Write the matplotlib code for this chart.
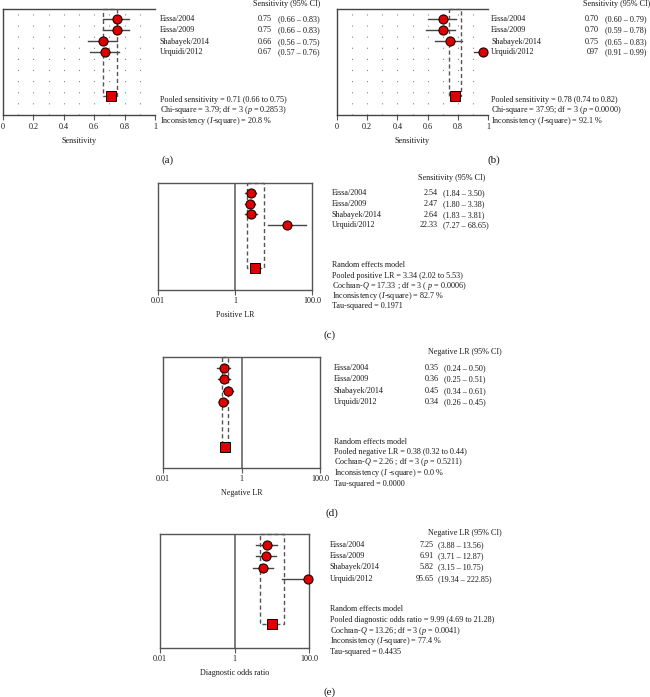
import matplotlib
matplotlib.use("Agg")
import matplotlib.pyplot as plt
from matplotlib.patches import Rectangle

plt.rcParams["font.family"] = ["Liberation Serif", "DejaVu Serif"]
plt.rcParams["mathtext.fontset"] = "custom"
plt.rcParams["mathtext.it"] = "Liberation Serif:italic"
plt.rcParams["mathtext.rm"] = "Liberation Serif"

studies = ["Eissa/2004", "Eissa/2009", "Shabayek/2014", "Urquidi/2012"]

# (a) sensitivity
sens_a = [0.75, 0.75, 0.66, 0.67]
sens_a_lo = [0.66, 0.66, 0.56, 0.57]
sens_a_hi = [0.83, 0.83, 0.75, 0.76]
sens_a_txt = ["0.75", "0.75", "0.66", "0.67"]
pool_a = (0.71, 0.66, 0.75)

# (b) sensitivity
sens_b = [0.70, 0.70, 0.75, 0.97]
sens_b_lo = [0.60, 0.59, 0.65, 0.91]
sens_b_hi = [0.79, 0.78, 0.83, 0.99]
sens_b_txt = ["0.70", "0.70", "0.75", "097"]
pool_b = (0.78, 0.74, 0.82)

# (c) positive LR
plr = [2.54, 2.47, 2.64, 22.33]
plr_lo = [1.84, 1.80, 1.83, 7.27]
plr_hi = [3.50, 3.38, 3.81, 68.65]
pool_c = (3.34, 2.02, 5.53)

# (d) negative LR
nlr = [0.35, 0.36, 0.45, 0.34]
nlr_lo = [0.24, 0.25, 0.34, 0.26]
nlr_hi = [0.50, 0.51, 0.61, 0.45]
pool_d = (0.38, 0.32, 0.44)

# (e) diagnostic odds ratio
dor = [7.25, 6.91, 5.82, 95.65]
dor_lo = [3.88, 3.71, 3.15, 19.34]
dor_hi = [13.56, 12.87, 10.75, 222.85]
pool_e = (9.99, 4.69, 21.28)

W, H = 650, 697
fig = plt.figure(figsize=(W / 100, H / 100), dpi=100)
TC = "#1a1a1a"
RED = "#dd0000"
FS = 5.9


def box(l, t, r, b):
    return [l / W, 1 - b / H, (r - l) / W, (b - t) / H]


def txt(x, y, s, size=FS, **kw):
    fig.text(x / W, 1 - y / H, s, va="center", fontsize=size, color=TC, **kw)


def forest(ax, est, lo, hi, pool, ylim, prow=7):
    rows = list(range(len(est)))
    for i in rows:
        ax.plot([lo[i], hi[i]], [i, i], color="#444", lw=1.0, zorder=2)
    ax.plot(est, rows, "o", ms=6.6, mfc=RED, mec="black", mew=0.7, zorder=4, clip_on=False)
    p, plo, phi = pool
    ax.add_patch(Rectangle((plo, ylim[1]), phi - plo, prow - ylim[1], fill=False,
                           ec="#555", lw=1.0, ls=(0, (3, 2)), zorder=3, clip_on=False))
    ax.plot([p], [prow], "s", ms=7.2, mfc=RED, mec="black", mew=0.7, zorder=5)
    ax.set_ylim(*ylim)
    ax.set_yticks([])
    ax.tick_params(axis="x", direction="out", length=3.5, width=0.8, colors="#555",
                   labelbottom=False)


# ---- (a) and (b): sensitivity panels ----
for (l, r), est, lo, hi, pool in [((3, 155), sens_a, sens_a_lo, sens_a_hi, pool_a),
                                  ((337, 488), sens_b, sens_b_lo, sens_b_hi, pool_b)]:
    ax = fig.add_axes(box(l, 9, r, 115))
    for gx in [i / 10 for i in range(1, 11)]:
        ax.axvline(gx, color="#888", lw=0.8, ls=(0, (1, 9)), zorder=1)
    forest(ax, est, lo, hi, pool, (8.7, -0.9))
    ax.set_xlim(0, 1)
    ax.set_xticks([0, 0.2, 0.4, 0.6, 0.8, 1.0])
    ax.spines["right"].set_visible(False)
    for s in ["left", "top", "bottom"]:
        ax.spines[s].set_color("#444")
        ax.spines[s].set_linewidth(1.0)
    for v, lab in zip([0, 0.2, 0.4, 0.6, 0.8, 1.0], ["0", "0.2", "0.4", "0.6", "0.8", "1"]):
        txt(l + v * (r - l), 127, lab, ha="center")
    txt((l + r) / 2, 141, "Sensitivity", ha="center")

# text columns (a)
txt(320, 4, "Sensitivity (95% CI)", ha="right")
for i, s in enumerate(studies):
    y = [19, 30, 42, 52][i]
    txt(160, y, s)
    txt(272, y, sens_a_txt[i], ha="right")
    txt(278, y, f"({sens_a_lo[i]:.2f} – {sens_a_hi[i]:.2f})")
txt(160, 100, "Pooled sensitivity = 0.71 (0.66 to 0.75)")
txt(160, 110, "Chi-square = 3.79; df = 3 ($p$ = 0.2853)")
txt(160, 121, "Inconsistency ($I$-square) = 20.8 %")

# text columns (b)
txt(583, 4, "Sensitivity (95% CI)")
for i, s in enumerate(studies):
    y = [19, 30, 42, 52][i]
    txt(491, y, s)
    txt(599, y, sens_b_txt[i], ha="right")
    txt(605, y, f"({sens_b_lo[i]:.2f} – {sens_b_hi[i]:.2f})")
txt(491, 100, "Pooled sensitivity = 0.78 (0.74 to 0.82)")
txt(491, 110, "Chi-square = 37.95; df = 3 ($p$ = 0.0000)")
txt(491, 121, "Inconsistency ($I$-square) = 92.1 %")

txt(162, 160, "(a)", size=8)
txt(488, 160, "(b)", size=8)


# ---- (c), (d), (e): log-scale panels ----
def log_panel(l, t, r, b, est, lo, hi, pool, ylim, xlabel):
    ax = fig.add_axes(box(l, t, r, b))
    ax.set_xscale("log")
    ax.axvline(1, color="#666", lw=1.2, zorder=1)
    forest(ax, est, lo, hi, pool, ylim)
    ax.set_xlim(0.01, 100)
    ax.set_xticks([0.01, 1, 100])
    ax.minorticks_off()
    for s in ax.spines.values():
        s.set_color("#555")
        s.set_linewidth(1.0)
    for v, lab in [(0, "0.01"), (0.5, "1"), (1, "100.0")]:
        txt(l + v * (r - l), b + 11, lab, ha="center")
    txt((l + r) / 2, b + 25, xlabel, ha="center")
    return ax


def text_block(x, ys, vx, cx, header, hx, hy, vals, lo, hi, lines, ly):
    txt(hx, hy, header, ha="right")
    for i, s in enumerate(studies):
        txt(x, ys[i], s)
        txt(vx, ys[i], f"{vals[i]:.2f}", ha="right")
        txt(cx, ys[i], f"({lo[i]:.2f} – {hi[i]:.2f})")
    for j, line in enumerate(lines):
        txt(x, ly[j], line)


log_panel(158, 183, 312, 290, plr, plr_lo, plr_hi, pool_c, (9.07, -0.93), "Positive LR")
text_block(332, [193, 204, 215, 225], 438, 443, "Sensitivity (95% CI)", 485, 178,
           plr, plr_lo, plr_hi,
           ["Random effects model",
            "Pooled positive LR = 3.34 (2.02 to 5.53)",
            "Cochran-$Q$ = 17.33 ; df = 3 ( $p$ = 0.0006)",
            "Inconsistency ($I$-square) = 82.7 %",
            "Tau-squared = 0.1971"],
           [265, 276, 286, 296, 306])
txt(323, 335, "(c)", size=8)

log_panel(163, 357, 320, 468, nlr, nlr_lo, nlr_hi, pool_d, (8.85, -0.97), "Negative LR")
text_block(334, [368, 379, 391, 402], 439, 444, "Negative LR (95% CI)", 502, 352,
           nlr, nlr_lo, nlr_hi,
           ["Random effects model",
            "Pooled negative LR = 0.38 (0.32 to 0.44)",
            "Cochran-$Q$ = 2.26 ; df = 3 ($p$ = 0.5211)",
            "Inconsistency ($I$ -square) = 0.0 %",
            "Tau-squared = 0.0000"],
           [442, 452, 462, 473, 484])
txt(325, 513, "(d)", size=8)

log_panel(160, 534, 309, 648, dor, dor_lo, dor_hi, pool_e, (9.1, -0.97), "Diagnostic odds ratio")
text_block(330, [545, 556, 567, 579], 434, 438, "Negative LR (95% CI)", 502, 533,
           dor, dor_lo, dor_hi,
           ["Random effects model",
            "Pooled diagnostic odds ratio = 9.99 (4.69 to 21.28)",
            "Cochran-$Q$ = 13.26; df = 3 ($p$ = 0.0041)",
            "Inconsistency ($I$-square) = 77.4 %",
            "Tau-squared = 0.4435"],
           [609, 620, 631, 641, 652])
txt(323, 692, "(e)", size=8)

fig.savefig("out.png", dpi=100)
